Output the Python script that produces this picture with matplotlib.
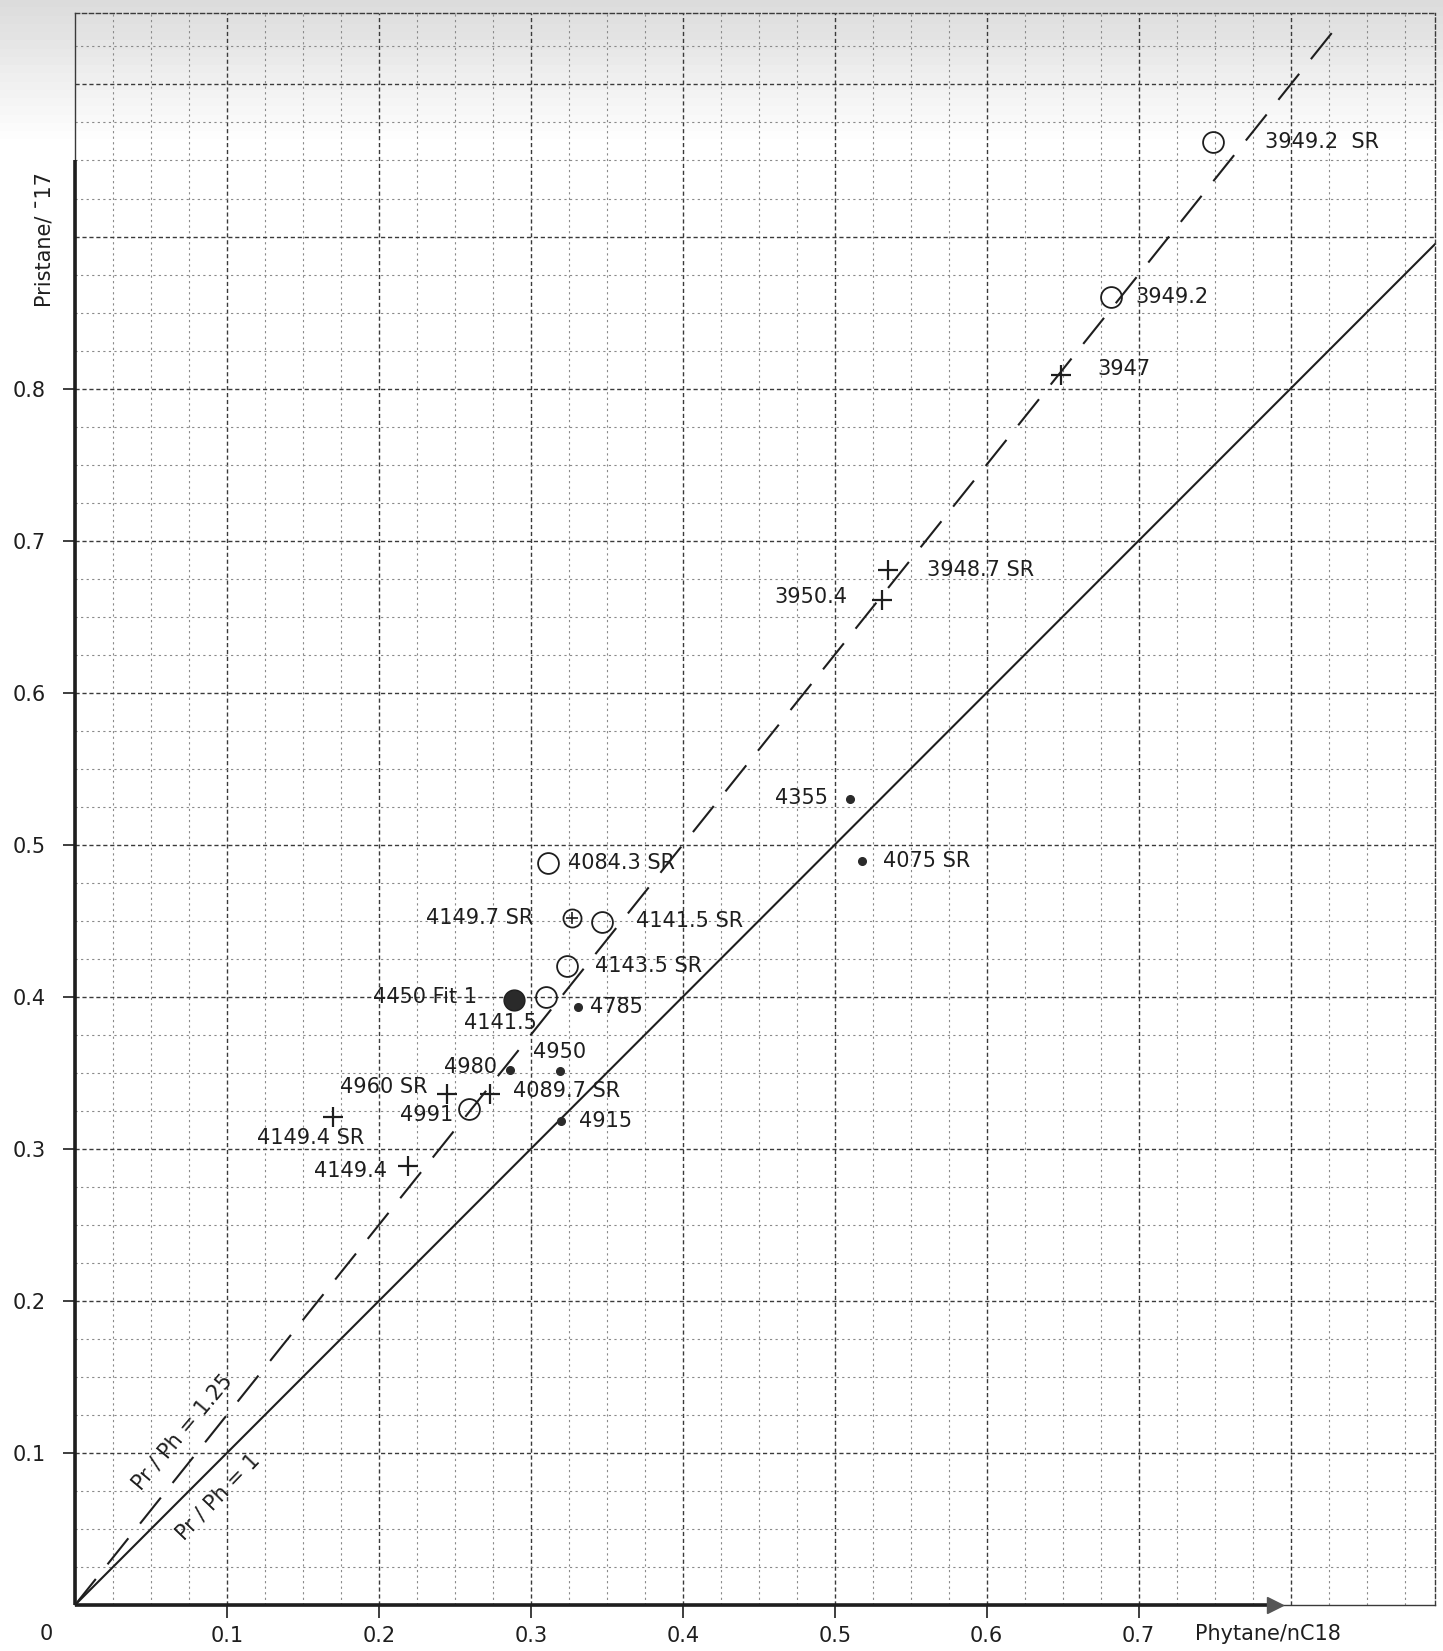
import numpy as np
import matplotlib
matplotlib.use("Agg")
import matplotlib.pyplot as plt

plt.rcParams['font.family'] = ['DejaVu Sans']

# --- data (x = Phytane/nC18, y = Pristane/nC17) ---
open_x = [0.749, 0.682, 0.311, 0.347, 0.324, 0.310, 0.259]
open_y = [0.962, 0.860, 0.488, 0.449, 0.420, 0.400, 0.326]
open_lbl = ["3949.2  SR", "3949.2", "4084.3 SR", "4141.5 SR", "4143.5 SR", "4141.5", "4991"]

cross_x = [0.649, 0.535, 0.531, 0.245, 0.273, 0.170, 0.219]
cross_y = [0.809, 0.681, 0.661, 0.336, 0.336, 0.321, 0.289]
cross_lbl = ["3947", "3948.7 SR", "3950.4", "4960 SR", "4089.7 SR", "4149.4 SR", "4149.4"]

dot_x = [0.510, 0.518, 0.331, 0.286, 0.319, 0.320]
dot_y = [0.530, 0.489, 0.393, 0.352, 0.351, 0.318]
dot_lbl = ["4355", "4075 SR", "4785", "4980", "4950", "4915"]

fill_x = [0.289]
fill_y = [0.398]
fill_lbl = ["4450 Fit 1"]

cplus_x = [0.327]
cplus_y = [0.452]
cplus_lbl = ["4149.7 SR"]

ratio_lines = [1.0, 1.25]

xticks = [0.1, 0.2, 0.3, 0.4, 0.5, 0.6, 0.7]
yticks = [0.1, 0.2, 0.3, 0.4, 0.5, 0.6, 0.7, 0.8]

# label placement: offset in points from the marker, and alignment
lbl_pos = {
    "3949.2  SR": (37, 0, "left"),
    "3949.2": (17, 0, "left"),
    "4084.3 SR": (15, 0, "left"),
    "4141.5 SR": (24, 1, "left"),
    "4143.5 SR": (20, 0, "left"),
    "4141.5": (-33, -19, "center"),
    "4991": (-11, -4, "right"),
    "3947": (26, 4, "left"),
    "3948.7 SR": (28, 0, "left"),
    "3950.4": (-25, 2, "right"),
    "4960 SR": (-14, 5, "right"),
    "4089.7 SR": (17, 2, "left"),
    "4149.4 SR": (-16, -15, "center"),
    "4149.4": (-15, -4, "right"),
    "4355": (-16, 1, "right"),
    "4075 SR": (15, 0, "left"),
    "4785": (9, 0, "left"),
    "4980": (-9, 2, "right"),
    "4950": (0, 14, "center"),
    "4915": (13, 0, "left"),
    "4450 Fit 1": (-27, 2, "right"),
    "4149.7 SR": (-28, 0, "right"),
}

ink = "#1e1e1e"
fs = 15

fig = plt.figure(figsize=(14.43, 16.51), dpi=100)
fig.patch.set_facecolor("white")

# scanned paper: greyish band fading down from the top edge
bg = fig.add_axes([0, 0, 1, 1], zorder=-5)
grad = np.ones((200, 2))
top = np.linspace(0.86, 1.0, 18)
grad[:18, :] = top[:, None]
bg.imshow(grad, cmap="gray", vmin=0, vmax=1, aspect="auto", extent=[0, 1, 0, 1])
bg.axis("off")

ax = fig.add_axes([75 / 1443, 1 - 1605 / 1651, 1360 / 1443, 1592 / 1651])
ax.set_facecolor("none")
ax.set_xlim(0, 0.895)
ax.set_ylim(0, 1.047)

# graph paper grid
for v in np.arange(0.025, 0.895, 0.025):
    major = abs(v * 10 - round(v * 10)) < 1e-6
    ax.axvline(v, color="#3a3a3a" if major else "#8a8a8a",
               lw=1.0 if major else 0.8,
               ls=(0, (3, 2)) if major else (0, (2, 3)), zorder=0)
for v in np.arange(0.025, 1.047, 0.025):
    major = abs(v * 10 - round(v * 10)) < 1e-6
    ax.axhline(v, color="#3a3a3a" if major else "#8a8a8a",
               lw=1.0 if major else 0.8,
               ls=(0, (3, 2)) if major else (0, (2, 3)), zorder=0)

for s in ["top", "right"]:
    ax.spines[s].set_linestyle((0, (3, 2)))
    ax.spines[s].set_linewidth(1.0)
    ax.spines[s].set_color("#3a3a3a")
for s in ["left", "bottom"]:
    ax.spines[s].set_linewidth(1.0)
    ax.spines[s].set_color("#3a3a3a")

# heavy drawn axes with arrow on x
ax.plot([0, 0], [0, 0.95], color=ink, lw=2.6, solid_capstyle="butt", clip_on=False, zorder=3)
ax.plot([0, 0.79], [0, 0], color=ink, lw=2.6, solid_capstyle="butt", clip_on=False, zorder=3)
ax.plot([0.79], [0], marker=">", ms=11, color="#555", clip_on=False, zorder=3)

# ratio lines
xr = np.array([0, 0.895])
ax.plot(xr, ratio_lines[0] * xr, color=ink, lw=1.5, zorder=2)
xd = np.array([0, 1.042 / ratio_lines[1]])
ax.plot(xd, ratio_lines[1] * xd, color=ink, lw=1.5, dashes=(16, 9), zorder=2)

ax.text(0.071, 0.114, "Pr / Ph = 1.25", rotation=50, ha="center", va="center",
        rotation_mode="anchor", fontsize=fs, color=ink)
ax.text(0.094, 0.071, "Pr / Ph = 1", rotation=46, ha="center", va="center",
        rotation_mode="anchor", fontsize=fs, color=ink)

# points
ax.plot(open_x, open_y, "o", ms=15, mfc="none", mec=ink, mew=1.3, ls="none", zorder=4)
ax.plot(fill_x, fill_y, "o", ms=15, mfc="#2a2a2a", mec=ink, mew=1.0, ls="none", zorder=4)
ax.plot(cplus_x, cplus_y, "o", ms=13, mfc="none", mec=ink, mew=1.3, ls="none", zorder=4)
ax.plot(cplus_x, cplus_y, "+", ms=9, mec=ink, mew=1.2, ls="none", zorder=4)
ax.plot(cross_x, cross_y, "+", ms=15, mec=ink, mew=1.6, ls="none", zorder=4)
ax.plot(dot_x, dot_y, "o", ms=5.5, color="#2a2a2a", ls="none", zorder=4)

for xs, ys, ls_ in [(open_x, open_y, open_lbl), (cross_x, cross_y, cross_lbl),
                    (dot_x, dot_y, dot_lbl), (fill_x, fill_y, fill_lbl),
                    (cplus_x, cplus_y, cplus_lbl)]:
    for x, y, t in zip(xs, ys, ls_):
        dx, dy, ha = lbl_pos[t]
        ax.annotate(t, (x, y), xytext=(dx, dy), textcoords="offset points",
                    ha=ha, va="center", fontsize=fs, color=ink, zorder=5)

# ticks
ax.set_xticks(xticks)
ax.set_xticklabels([f"{v:.1f}" for v in xticks])
ax.set_yticks(yticks)
ax.set_yticklabels([f"{v:.1f}" for v in yticks])
ax.tick_params(axis="x", direction="out", length=9, width=1.2, pad=6,
               labelsize=fs, colors=ink)
ax.tick_params(axis="y", direction="out", length=9, width=1.2, pad=12,
               labelsize=fs, colors=ink)

fig.text(46 / 1443, 1 - 1634 / 1651, "0", ha="center", va="center", fontsize=fs, color=ink)
fig.text(1195 / 1443, 1 - 1634 / 1651, "Phytane/nC18", ha="left", va="center",
         fontsize=fs, color=ink)
fig.text(45 / 1443, 1 - 240 / 1651, "Pristane/ \u00af17", rotation=90, ha="center",
         va="center", fontsize=15, color=ink)

fig.savefig("out.png", dpi=100)
